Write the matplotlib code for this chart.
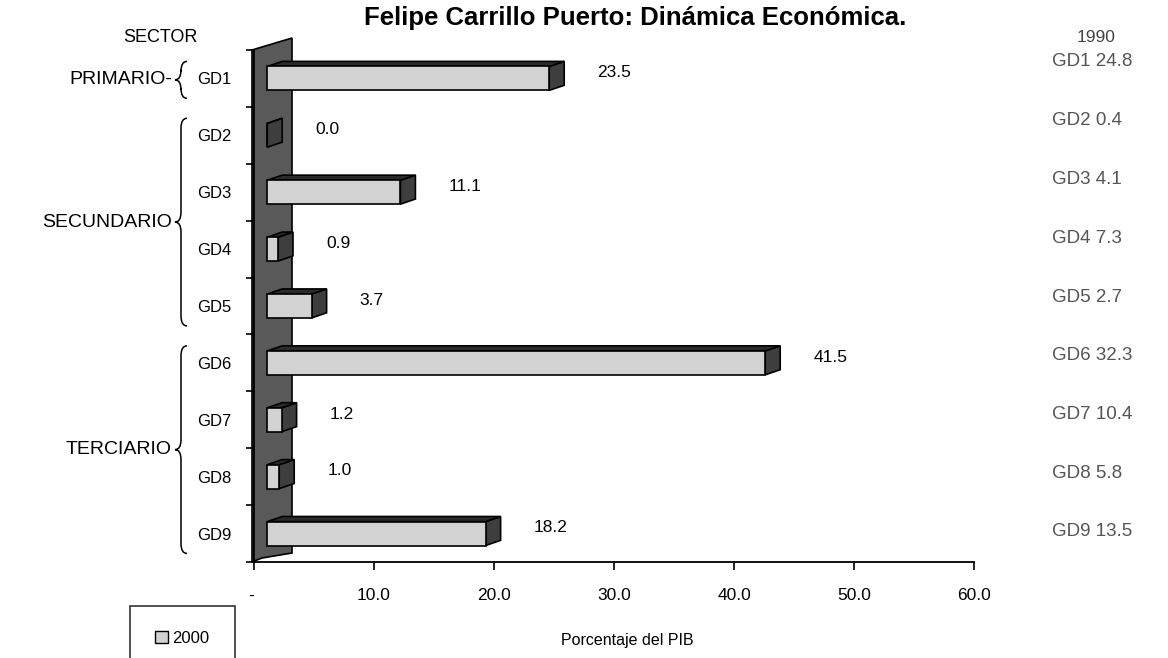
import matplotlib
matplotlib.use("Agg")
import matplotlib.pyplot as plt
from matplotlib.patches import Polygon, PathPatch, Patch
from matplotlib.path import Path
import numpy as np

plt.rcParams['font.family'] = ['Liberation Sans', 'DejaVu Sans']

# datos
categorias = ["GD1", "GD2", "GD3", "GD4", "GD5", "GD6", "GD7", "GD8", "GD9"]
valores_2000 = [23.5, 0.0, 11.1, 0.9, 3.7, 41.5, 1.2, 1.0, 18.2]
valores_1990 = [24.8, 0.4, 4.1, 7.3, 2.7, 32.3, 10.4, 5.8, 13.5]
sectores = ["PRIMARIO", "SECUNDARIO", "TERCIARIO"]
sector_grupos = [(0, 0), (1, 4), (5, 8)]
xticks = [0, 10, 20, 30, 40, 50, 60]
xtick_labels = ["-", "10.0", "20.0", "30.0", "40.0", "50.0", "60.0"]

W, H = 1168, 658
fig = plt.figure(figsize=(W / 100, H / 100), dpi=100)
fig.patch.set_facecolor("white")

# capa en pixeles para llaves y textos laterales
ov = fig.add_axes([0, 0, 1, 1], zorder=0)
ov.set_xlim(0, W)
ov.set_ylim(H, 0)
ov.axis("off")

ax = fig.add_axes([254 / W, 1 - 562 / H, 720 / W, 512 / H], zorder=1)
ax.patch.set_alpha(0)

n = len(categorias)
y = np.arange(n)
ax.set_xlim(0, 60)
ax.set_ylim(n - 0.5, -0.5)

def px2x(px):
    return (px - 254) / 12.0

def px2y(py):
    return (py - 50) / (512 / n) - 0.5

# pared lateral
pared = Polygon([(px2x(252), px2y(50)), (px2x(292), px2y(38)),
                 (px2x(292), px2y(553)), (px2x(262), px2y(558)),
                 (px2x(252), px2y(562))],
                closed=True, facecolor="#595959", edgecolor="black", lw=1.2,
                clip_on=False, zorder=1)
ax.add_patch(pared)

# barras con efecto 3D
base = 1.1
alto = 0.42
dx = 1.25
dy = 0.09
ax.barh(y, valores_2000, left=base, height=alto, color="#d2d2d2",
        edgecolor="black", linewidth=1.2, zorder=3)
for i, v in enumerate(valores_2000):
    x1 = base + v
    yt, yb = i - alto / 2, i + alto / 2
    lado = Polygon([(x1, yt), (x1 + dx, yt - dy), (x1 + dx, yb - dy), (x1, yb)],
                   closed=True, facecolor="#3e3e3e", edgecolor="black", lw=1.2, zorder=2)
    tapa = Polygon([(base, yt), (base + dx, yt - dy), (x1 + dx, yt - dy), (x1, yt)],
                   closed=True, facecolor="#2a2a2a", edgecolor="black", lw=1.2, zorder=2)
    ax.add_patch(lado)
    ax.add_patch(tapa)
    ax.text(x1 + 4.0, i - 0.1, f"{v:.1f}", fontsize=12.5, va="center", ha="left")

# ejes
for s in ["top", "right"]:
    ax.spines[s].set_visible(False)
ax.spines["bottom"].set_linewidth(1.3)
ax.spines["left"].set_linewidth(1.3)
ax.set_xticks(xticks)
ax.set_xticklabels(xtick_labels, fontsize=12.5)
ax.get_xticklabels()[0].set_ha("right")
ax.tick_params(axis="x", direction="out", length=6, width=1.2, pad=13)
ax.set_yticks(y)
ax.set_yticklabels(categorias, fontsize=12)
ax.tick_params(axis="y", length=0, pad=16)
ax.set_yticks(np.arange(n + 1) - 0.5, minor=True)
ax.tick_params(axis="y", which="minor", direction="out", length=6, width=1.2)

fig.text(627 / W, 1 - 641 / H, "Porcentaje del PIB", fontsize=11.5, ha="center", va="center")
fig.text(635 / W, 1 - 18 / H, "Felipe Carrillo Puerto: Dinámica Económica.",
         fontsize=18.5, fontweight="bold", ha="center", va="center")

# sectores y llaves
ov.text(160, 37, "SECTOR", fontsize=13, ha="center", va="center")

def llave(xr, y0, y1, ym, ancho=12, r=10):
    xm = xr - ancho / 2
    xl = xr - ancho
    verts = [(xr, y0), (xm, y0), (xm, y0 + r),
             (xm, ym - r),
             (xm, ym), (xl, ym),
             (xm, ym), (xm, ym + r),
             (xm, y1 - r),
             (xm, y1), (xr, y1)]
    codes = [Path.MOVETO, Path.CURVE3, Path.CURVE3,
             Path.LINETO,
             Path.CURVE3, Path.CURVE3,
             Path.CURVE3, Path.CURVE3,
             Path.LINETO,
             Path.CURVE3, Path.CURVE3]
    ov.add_patch(PathPatch(Path(verts, codes), facecolor="none", edgecolor="black", lw=1.1))

def cat_py(i, lado):
    return 50 + (i + lado) * 512 / n

for nombre, (a, b) in zip(sectores, sector_grupos):
    y0 = cat_py(a, 0.2)
    y1 = cat_py(b, 0.85)
    ym = (y0 + y1) / 2
    llave(187, y0, y1, ym)
    ov.text(172, ym, nombre + "-" if nombre == "PRIMARIO" else nombre, fontsize=14,
            ha="right", va="center")

# valores 1990 a la derecha
ov.text(1096, 37, "1990", fontsize=12.5, ha="center", va="center", color="#444444")
ys90 = np.linspace(62, 532, n)
for cat, v, yy in zip(categorias, valores_1990, ys90):
    ov.text(1052, yy, f"{cat} {v:.1f}", fontsize=13.5, ha="left", va="center", color="#555555")

# leyenda
h = Patch(facecolor="#d2d2d2", edgecolor="black", lw=1)
fig.legend([h], ["2000"], loc="upper left", bbox_to_anchor=(130 / W, 1 - 606 / H),
           frameon=True, fancybox=False, edgecolor="black", fontsize=12,
           borderpad=1.5, handlelength=0.75, handleheight=0.75, handletextpad=0.3,
           borderaxespad=0).get_frame().set_linewidth(1.2)

fig.savefig("out.png", dpi=100, facecolor="white")
